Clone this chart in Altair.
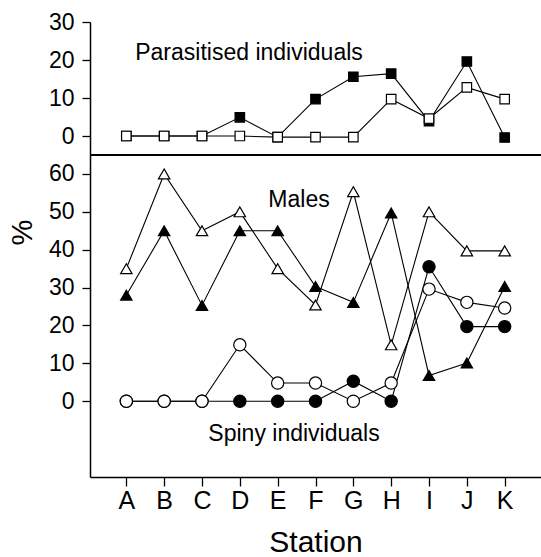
import altair as alt
import pandas as pd

# ---- data ----
stations = ["A", "B", "C", "D", "E", "F", "G", "H", "I", "J", "K"]

parasitised_filled = [0, 0, 0, 4.9, -0.3, 9.7, 15.6, 16.4, 3.9, 19.6, -0.4]
parasitised_open = [0, 0, 0, 0, -0.3, -0.3, -0.3, 9.7, 4.6, 12.8, 9.7]

males_open = [35, 60, 45, 50, 35, 25.4, 55.3, 14.9, 50, 39.7, 39.7]
males_filled = [28, 45, 25.3, 45, 45, 30.3, 26.1, 49.7, 6.8, 10.1, 30.3]

spiny_open = [0, 0, 0, 14.9, 4.8, 4.8, 0, 4.8, 29.6, 26.1, 24.6]
spiny_filled = [0, 0, 0, 0, 0, 0, 5.3, 0, 35.5, 19.7, 19.7]

top_ticks = [0, 10, 20, 30]
bottom_ticks = [0, 10, 20, 30, 40, 50, 60]

FONT = "Liberation Sans"
W, H = 451, 455
TOP_H = 133


def frame(values):
    return pd.DataFrame({"station": stations, "value": values})


x_enc = alt.X(
    "station:N",
    sort=stations,
    scale=alt.Scale(type="point", domain=stations, padding=0.96),
    axis=alt.Axis(
        title="Station",
        labelAngle=0,
        labelFontSize=25,
        tickSize=9,
        labelPadding=2,
        titleFontSize=30,
        titlePadding=14,
    ),
)

y_top = alt.Y(
    "value:Q",
    scale=alt.Scale(domain=[-5, 30], range=[TOP_H, 0], nice=False, zero=False),
    axis=alt.Axis(orient="left", values=top_ticks, title=None),
)

y_bot = alt.Y(
    "value:Q",
    scale=alt.Scale(domain=[-20, 65], range=[H, TOP_H], nice=False, zero=False),
    axis=alt.Axis(
        orient="left",
        values=bottom_ticks,
        title="%",
        titleX=-68,
        titleY=210,
        titleAlign="center",
        titleBaseline="middle",
        titleFontSize=29,
    ),
)

SIZES = {"square": 90, "circle": 150, "triangle-up": 130}


def line_of(values, y_enc):
    return alt.Chart(frame(values)).mark_line(color="black", strokeWidth=1.1).encode(
        x=x_enc, y=y_enc
    )


def points_of(values, shape, filled, y_enc):
    return alt.Chart(frame(values)).mark_point(
        shape=shape,
        size=SIZES[shape],
        filled=True,
        fill="black" if filled else "white",
        stroke="black",
        strokeWidth=1.2,
        opacity=1,
    ).encode(x=x_enc, y=y_enc)


divider = alt.Chart(pd.DataFrame({"v": [0]})).mark_rule(
    color="black", strokeWidth=1.8
).encode(y=alt.datum(-5), x=alt.value(0), x2=alt.value("width"))

top = alt.layer(
    line_of(parasitised_filled, y_top),
    line_of(parasitised_open, y_top),
    points_of(parasitised_filled, "square", True, y_top),
    points_of(parasitised_open, "square", False, y_top),
    divider,
)

labels = pd.DataFrame(
    {
        "t": ["Parasitised individuals", "Males", "Spiny individuals"],
        "px": [159, 209, 204],
        "py": [31, 178, 412],
    }
)


def label(i):
    return alt.Chart(labels.iloc[[i]]).mark_text(
        font=FONT, fontSize=23, color="black", align="center", baseline="middle"
    ).encode(x=alt.value(int(labels.px[i])), y=alt.value(int(labels.py[i])), text="t:N")


bottom = alt.layer(
    line_of(spiny_filled, y_bot),
    line_of(spiny_open, y_bot),
    line_of(males_filled, y_bot),
    line_of(males_open, y_bot),
    points_of(spiny_filled, "circle", True, y_bot),
    points_of(spiny_open, "circle", False, y_bot),
    points_of(males_filled, "triangle-up", True, y_bot),
    points_of(males_open, "triangle-up", False, y_bot),
    label(0),
    label(1),
    label(2),
)

chart = (
    alt.layer(top, bottom)
    .resolve_scale(y="independent")
    .properties(
        width=W,
        height=H,
        padding={"left": 90, "top": 22, "right": 0, "bottom": 80},
        autosize=alt.AutoSizeParams(type="none"),
        background="white",
    )
    .configure_view(stroke=None)
    .configure_axis(
        labelFont=FONT,
        titleFont=FONT,
        labelColor="black",
        titleColor="black",
        domainColor="black",
        tickColor="black",
        grid=False,
        domainWidth=1.5,
        tickWidth=1.3,
        tickSize=8,
        labelFontSize=23,
        labelPadding=8,
        titleFontWeight="normal",
    )
)

chart.save("out.html", embed_options={"renderer": "svg", "actions": False})
